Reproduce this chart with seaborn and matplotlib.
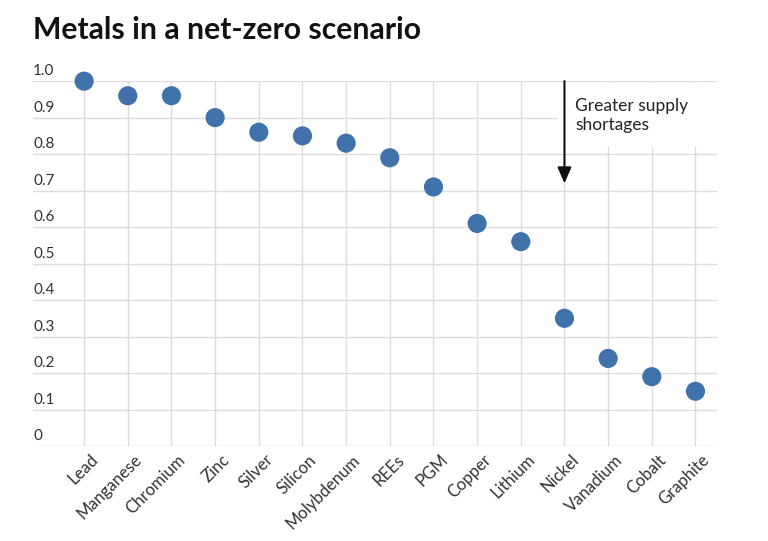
import matplotlib
matplotlib.use("Agg")
import matplotlib.pyplot as plt
import matplotlib.transforms as mtransforms
from matplotlib.patches import Rectangle
import seaborn as sns
import pandas as pd

metals = ["Lead", "Manganese", "Chromium", "Zinc", "Silver", "Silicon", "Molybdenum",
          "REEs", "PGM", "Copper", "Lithium", "Nickel", "Vanadium", "Cobalt", "Graphite"]
values = [1.00, 0.96, 0.96, 0.90, 0.86, 0.85, 0.83, 0.79, 0.71, 0.61, 0.56, 0.35, 0.24, 0.19, 0.15]
yticks = [0, 0.1, 0.2, 0.3, 0.4, 0.5, 0.6, 0.7, 0.8, 0.9, 1.0]
ytick_labels = ["0", "0.1", "0.2", "0.3", "0.4", "0.5", "0.6", "0.7", "0.8", "0.9", "1.0"]
title = "Metals in a net-zero scenario"
note = "Greater supply\nshortages"
arrow_metal = "Nickel"
arrow_top, arrow_bottom = 1.0, 0.72

df = pd.DataFrame({"metal": metals, "value": values})

sns.set_theme(style="white")
plt.rcParams["font.family"] = ["Lato", "DejaVu Sans"]

fig = plt.figure(figsize=(7.68, 5.41), dpi=100)
ax = fig.add_axes([0.043, 0.1756, 0.891, 0.6744])

sns.scatterplot(data=df, x="metal", y="value", ax=ax, s=190, color="#3f72aa",
                edgecolor="none", zorder=5, clip_on=False)

ax.set_ylim(0, 1.0)
ax.set_xlim(-1.17, 14.5)
ax.set_yticks(yticks)
ax.set_yticklabels(ytick_labels)
ax.set_xticks(range(len(metals)))
ax.set_xticklabels(metals)
ax.set_xlabel("")
ax.set_ylabel("")
ax.grid(True, color="#dddddd", linewidth=1.0)
ax.set_axisbelow(True)
for sp in ax.spines.values():
    sp.set_visible(False)

ax.tick_params(axis="y", length=0, pad=0, labelsize=11, labelcolor="#333333")
ax.tick_params(axis="x", length=0, pad=4, labelsize=12, labelcolor="#333333")
offset = mtransforms.ScaledTranslation(0, 3 / 100, fig.dpi_scale_trans)
for lab in ax.get_yticklabels():
    lab.set_horizontalalignment("left")
    lab.set_verticalalignment("bottom")
    lab.set_transform(lab.get_transform() + offset)
xoff = mtransforms.ScaledTranslation(6 / 100, 0, fig.dpi_scale_trans)
for lab in ax.get_xticklabels():
    lab.set_rotation(45)
    lab.set_horizontalalignment("right")
    lab.set_verticalalignment("top")
    lab.set_rotation_mode("anchor")
    lab.set_transform(lab.get_transform() + xoff)

xi = metals.index(arrow_metal)
ax.add_patch(Rectangle((xi - 0.18, 0.82), 14.5 - (xi - 0.18), 0.175,
                       facecolor="white", edgecolor="none", zorder=3, clip_on=False))
ax.text(xi + 0.25, 0.955, note, fontsize=12.5, color="#222222", va="top", ha="left",
        linespacing=1.25, zorder=4)
ax.annotate("", xy=(xi, arrow_bottom), xytext=(xi, arrow_top),
            arrowprops=dict(arrowstyle="-|>,head_width=0.35,head_length=0.8",
                            color="#111111", lw=1.5, shrinkA=0, shrinkB=0), zorder=6)

fig.text(0.043, 0.928, title, fontsize=21.7, fontweight="bold", color="#111111",
         ha="left", va="baseline")

fig.savefig("out.png", dpi=100, facecolor="white")
